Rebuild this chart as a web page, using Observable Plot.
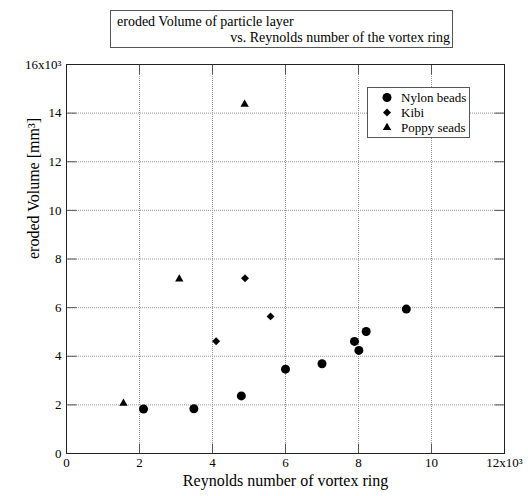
<!DOCTYPE html>
<html>
<head>
<meta charset="utf-8">
<script src="https://cdn.jsdelivr.net/npm/d3@7"></script>
<script src="https://cdn.jsdelivr.net/npm/@observablehq/plot@0.6"></script>
<style>
  html, body { margin: 0; padding: 0; background: #fff; }
  #wrap { position: relative; width: 528px; height: 496px; font-family: "Liberation Serif", "Times New Roman", serif; color: #000; }
  #title { position: absolute; left: 110px; top: 10px; width: 341px; height: 36px; border: 1px solid #555; box-sizing: content-box; font-size: 14px; line-height: 16px; }
  #title .l1 { position: absolute; left: 6px; top: 3px; white-space: nowrap; }
  #title .l2 { position: absolute; right: 2px; top: 19px; white-space: nowrap; }
  #legend { position: absolute; left: 367px; top: 87px; width: 101px; height: 49px; border: 1px solid #555; font-size: 13px; background: #fff; }
  #legend .row { position: absolute; left: 0; height: 15px; line-height: 15px; white-space: nowrap; }
  #legend svg { position: absolute; left: 11px; top: 0; }
  #legend span { position: absolute; left: 33px; top: 0; }
</style>
</head>
<body>
<div id="wrap"></div>
<script>
// ---- data ----
const seriesNames = ["Nylon beads", "Kibi", "Poppy seads"];
const nylonX = [2110, 3490, 4790, 6000, 7000, 7890, 8010, 8210, 9310];
const nylonY = [1830, 1840, 2370, 3470, 3690, 4610, 4240, 5020, 5940];
const kibiX  = [4100, 4890, 5590];
const kibiY  = [4620, 7210, 5640];
const poppyX = [1560, 3090, 4880];
const poppyY = [2060, 7170, 14360];

const xTicks = [0, 2000, 4000, 6000, 8000, 10000, 12000];
const xTickLabels = ["0", "2", "4", "6", "8", "10", "12x10³"];
const yTicks = [0, 2000, 4000, 6000, 8000, 10000, 12000, 14000, 16000];
const yTickLabels = ["0", "2", "4", "6", "8", "10", "12", "14", "16x10³"];

const titleLine1 = "eroded Volume of particle layer";
const titleLine2 = "vs. Reynolds number of the vortex ring";
const xLabel = "Reynolds number of vortex ring";
const yLabel = "eroded Volume [mm³]";

// ---- build tables ----
const toRows = (xs, ys, s) => xs.map((x, i) => ({x, y: ys[i], s}));
const nylon = toRows(nylonX, nylonY, seriesNames[0]);
const kibi = toRows(kibiX, kibiY, seriesNames[1]);
const poppy = toRows(poppyX, poppyY, seriesNames[2]);

const symbolFor = {"Nylon beads": "circle", "Kibi": "diamond2", "Poppy seads": "triangle"};
const rFor = {"Nylon beads": 4.5, "Kibi": 3.6, "Poppy seads": 3.1};

// inward tick symbols
const T = 10;
const tickRight = {draw(c) { c.moveTo(0, 0); c.lineTo(T, 0); }};
const tickLeft  = {draw(c) { c.moveTo(0, 0); c.lineTo(-T, 0); }};
const tickUp    = {draw(c) { c.moveTo(0, 0); c.lineTo(0, -T); }};
const tickDown  = {draw(c) { c.moveTo(0, 0); c.lineTo(0, T); }};
const tickStyle = {fill: "none", stroke: "#555", strokeWidth: 1};

const chart = Plot.plot({
  width: 528,
  height: 496,
  marginLeft: 66,
  marginRight: 24,
  marginTop: 64,
  marginBottom: 43,
  style: {fontFamily: '"Liberation Serif", "Times New Roman", serif', fontSize: "13px", color: "#000", background: "#fff", overflow: "visible"},
  x: {domain: [0, 12000]},
  y: {domain: [0, 16000]},
  marks: [
    Plot.gridX(xTicks, {stroke: "#999", strokeOpacity: 1, strokeDasharray: "1,1"}),
    Plot.gridY(yTicks, {stroke: "#999", strokeOpacity: 1, strokeDasharray: "1,1"}),
    Plot.dot(yTicks, {y: d => d, frameAnchor: "left", symbol: tickRight, ...tickStyle}),
    Plot.dot(yTicks, {y: d => d, frameAnchor: "right", symbol: tickLeft, ...tickStyle}),
    Plot.dot(xTicks, {x: d => d, frameAnchor: "bottom", symbol: tickUp, ...tickStyle}),
    Plot.dot(xTicks, {x: d => d, frameAnchor: "top", symbol: tickDown, ...tickStyle}),
    Plot.frame({stroke: "#222"}),
    Plot.axisX(xTicks, {tickSize: 0, tickPadding: 4, fontSize: 13, label: null,
      tickFormat: d => xTickLabels[xTicks.indexOf(d)]}),
    Plot.axisY(yTicks, {tickSize: 0, tickPadding: 5, fontSize: 13, label: null,
      tickFormat: d => yTickLabels[yTicks.indexOf(d)]}),
    Plot.text([xLabel], {text: d => d, frameAnchor: "bottom", dy: 32, fontSize: 16}),
    Plot.text([yLabel], {text: d => d, frameAnchor: "left", dx: -33, rotate: -90, fontSize: 16}),
    ...[nylon, kibi, poppy].map(data =>
      Plot.dot(data, {x: "x", y: "y", symbol: symbolFor[data[0].s], r: rFor[data[0].s], fill: "#000", stroke: "none"})
    )
  ]
});

const wrap = document.getElementById("wrap");
wrap.appendChild(chart);

// title box
const title = document.createElement("div");
title.id = "title";
title.innerHTML = `<div class="l1"></div><div class="l2"></div>`;
title.querySelector(".l1").textContent = titleLine1;
title.querySelector(".l2").textContent = titleLine2;
wrap.appendChild(title);

// legend box
const legend = document.createElement("div");
legend.id = "legend";
seriesNames.forEach((name, i) => {
  const row = document.createElement("div");
  row.className = "row";
  row.style.top = (2 + i * 15) + "px";
  row.style.width = "100px";
  const r = rFor[name];
  const sym = {circle: d3.symbolCircle, diamond2: d3.symbolDiamond2, triangle: d3.symbolTriangle}[symbolFor[name]];
  const path = d3.symbol(sym, Math.PI * r * r)();
  row.innerHTML = `<svg width="16" height="15" viewBox="-8 -7.5 16 15"><path d="${path}" fill="#000"/></svg><span></span>`;
  row.querySelector("span").textContent = name;
  legend.appendChild(row);
});
wrap.appendChild(legend);
</script>
</body>
</html>
